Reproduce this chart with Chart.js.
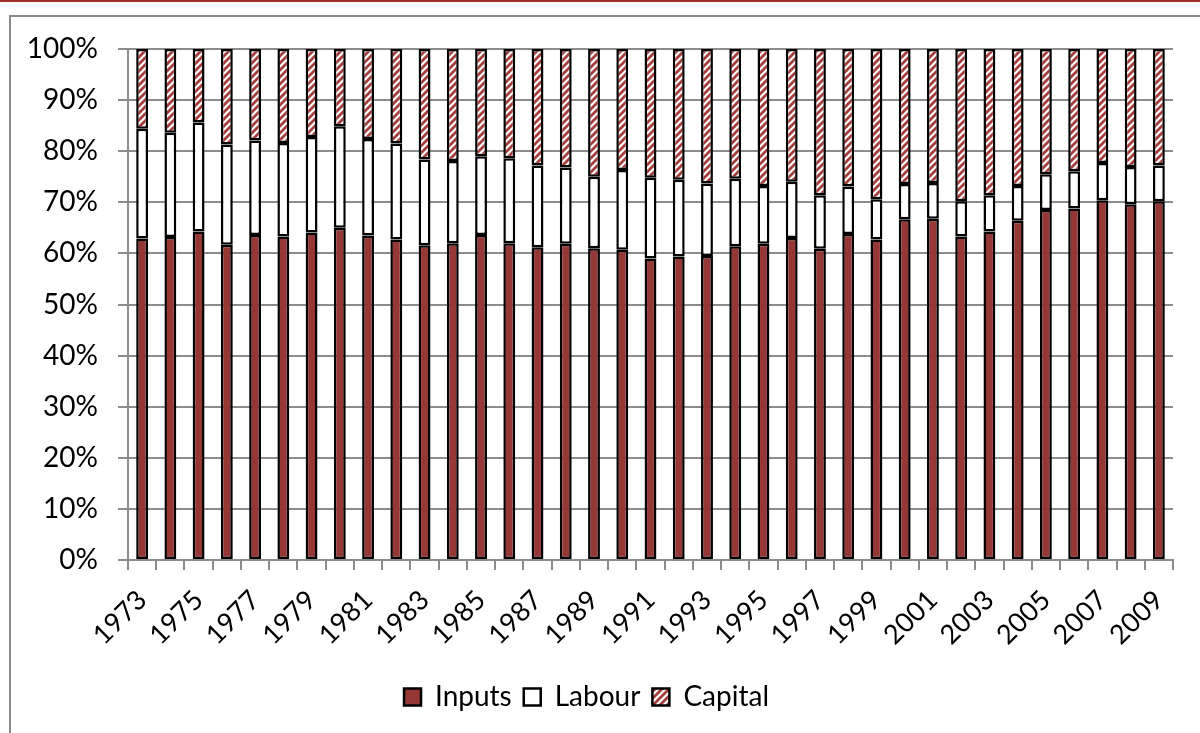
<!DOCTYPE html>
<html>
<head>
<meta charset="utf-8">
<script src="https://cdn.jsdelivr.net/npm/chart.js@4.4.0/dist/chart.umd.min.js"></script>
<style>
  html, body { margin: 0; padding: 0; background: #fff; width: 1200px; height: 733px; overflow: hidden; }
  #topline { position: absolute; left: 0; top: 0; width: 1200px; height: 2px; background: #a0302c; }
  #frame { position: absolute; left: 9px; top: 15px; width: 1300px; height: 900px; border: 2px solid #8c8c8c; }
  #wrap { position: absolute; left: 0; top: 0; width: 1200px; height: 733px; }
</style>
</head>
<body>
<div id="topline"></div>
<div id="frame"></div>
<div id="wrap"><canvas id="c" width="1200" height="733"></canvas></div>
<script>
const years = ['1973','1974','1975','1976','1977','1978','1979','1980','1981','1982','1983','1984',
  '1985','1986','1987','1988','1989','1990','1991','1992','1993','1994','1995','1996','1997',
  '1998','1999','2000','2001','2002','2003','2004','2005','2006','2007','2008','2009'];

const inputs = [62.9,63.2,64.3,61.7,63.6,63.3,64.1,65.0,63.5,62.7,61.6,62.0,
  63.6,62.0,61.2,61.9,61.0,60.7,59.0,59.4,59.5,61.4,61.9,63.0,60.9,
  63.8,62.7,66.7,66.8,63.3,64.3,66.4,68.5,68.8,70.4,69.6,70.2];

const labour = [21.5,20.4,21.3,19.6,18.5,18.3,18.7,19.9,18.9,18.8,16.8,16.1,
  15.4,16.6,16.0,14.9,14.0,15.6,15.8,15.0,14.2,13.2,11.3,11.0,10.5,
  9.3,7.9,6.9,7.0,6.9,7.1,6.8,7.0,7.3,7.3,7.3,7.0];

const capital = [15.6,16.4,14.4,18.7,17.9,18.4,17.2,15.1,17.6,18.5,21.6,21.9,
  21.0,21.4,22.8,23.2,25.0,23.7,25.2,25.6,26.3,25.4,26.8,26.0,28.6,
  26.9,29.4,26.4,26.2,29.8,28.6,26.8,24.5,23.9,22.3,23.1,22.8];

const yTicks = [0,10,20,30,40,50,60,70,80,90,100];

function makeHatch() {
  const s = 7;
  const pc = document.createElement('canvas');
  pc.width = s; pc.height = s;
  const g = pc.getContext('2d');
  g.fillStyle = '#ffffff';
  g.fillRect(0, 0, s, s);
  g.strokeStyle = '#a43f3c';
  g.lineWidth = 2.8;
  g.beginPath();
  g.moveTo(-1, s + 1); g.lineTo(s + 1, -1);
  g.moveTo(-2, 2); g.lineTo(2, -2);
  g.moveTo(s - 2, s + 2); g.lineTo(s + 2, s - 2);
  g.stroke();
  return g.createPattern(pc, 'repeat');
}
const ctx = document.getElementById('c').getContext('2d');
const hatch = makeHatch();

const FONT = 'Lato';
const grey = '#8c8c8c';

new Chart(ctx, {
  type: 'bar',
  data: {
    labels: years,
    datasets: [
      { label: 'Inputs', data: inputs, backgroundColor: '#953735', borderColor: '#000', borderWidth: 2.5, borderSkipped: false },
      { label: 'Labour', data: labour, backgroundColor: '#ffffff', borderColor: '#000', borderWidth: 2.5, borderSkipped: false },
      { label: 'Capital', data: capital, backgroundColor: hatch, borderColor: '#000', borderWidth: 2.5, borderSkipped: false }
    ]
  },
  options: {
    responsive: false,
    animation: false,
    devicePixelRatio: 1,
    layout: { padding: { left: 0, right: 27, top: 49, bottom: 12 } },
    datasets: { bar: { barPercentage: 0.42, categoryPercentage: 1.0 } },
    plugins: {
      tooltip: { enabled: false },
      legend: {
        position: 'bottom',
        labels: {
          color: '#000',
          font: { family: FONT, size: 28 },
          boxWidth: 17, boxHeight: 17,
          padding: 12
        }
      }
    },
    scales: {
      x: {
        stacked: true,
        grid: { display: true, drawOnChartArea: false, drawTicks: true, tickLength: 10, color: grey, lineWidth: 2 },
        border: { display: true, color: grey, width: 2 },
        ticks: {
          autoSkip: false, minRotation: 45, maxRotation: 45,
          color: '#000', font: { family: FONT, size: 27 }, padding: 14,
          callback: (v, i) => (i % 2 === 0 ? years[i] : '')
        },
        afterFit: (s) => { s.height = 111; }
      },
      y: {
        stacked: true, min: 0, max: 100,
        afterBuildTicks: (s) => { s.ticks = yTicks.map(v => ({ value: v })); },
        grid: { color: grey, lineWidth: 2, drawTicks: true, tickLength: 10 },
        border: { display: true, color: grey, width: 2 },
        ticks: {
          color: '#000', font: { family: FONT, size: 28 }, padding: 20,
          callback: (v) => v + '%'
        },
        afterFit: (s) => { s.width = 128; }
      }
    }
  }
});
</script>
</body>
</html>
